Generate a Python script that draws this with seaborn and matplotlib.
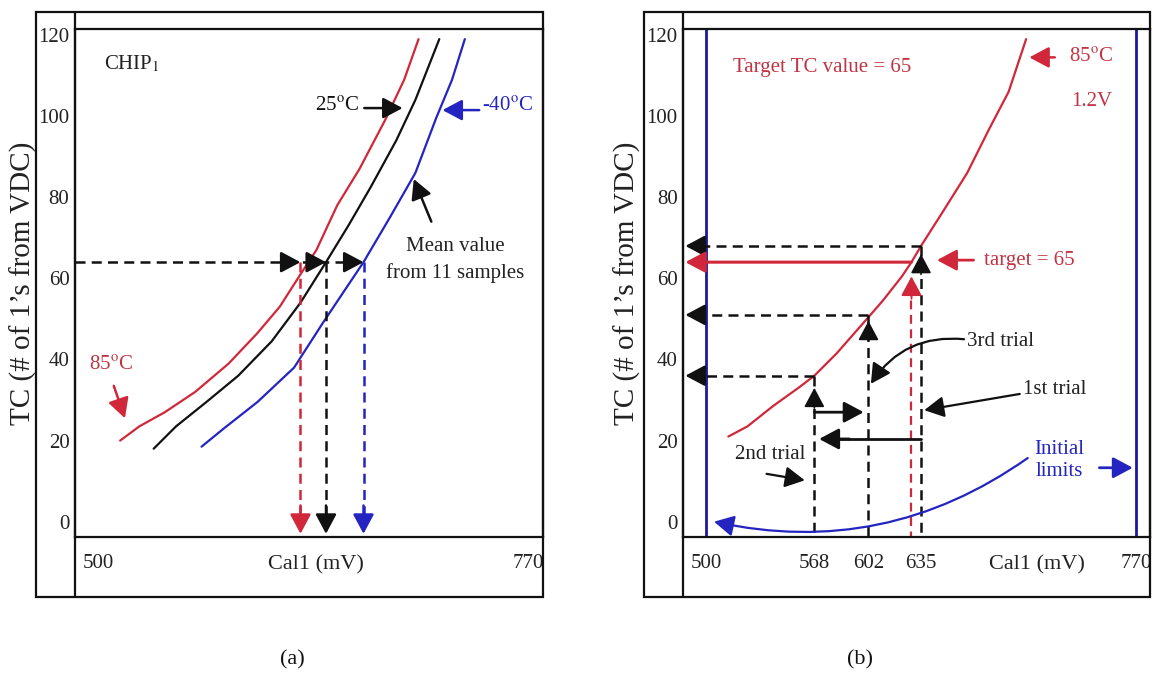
import numpy as np
import pandas as pd
import matplotlib
matplotlib.use("Agg")
import matplotlib.pyplot as plt
import seaborn as sns
from matplotlib.lines import Line2D
from matplotlib.patches import Rectangle

# ---------------- data ----------------
# panel (a): TC vs Cal1 for three temperatures
red_a_x = [514, 526, 542, 561, 582, 600, 614, 627, 637, 650, 664, 680, 692, 701]
red_a_y = [20, 23.5, 27, 32, 39, 46.5, 53, 61, 67, 78, 87, 99, 109, 119]
blk_a_x = [535, 549, 568, 588, 609, 627, 643, 657, 671, 687, 699, 714]
blk_a_y = [18, 23.5, 29.5, 36, 44.5, 54, 64, 73, 82.5, 94, 104, 119]
blu_a_x = [565, 579, 600, 623, 641, 666.5, 683, 699, 712, 722, 730]
blu_a_y = [18.5, 23, 29.5, 38, 49, 64, 75, 86, 99.5, 109, 119]
target_a = 64
cross_a = [627, 643, 666.5]

# panel (b): 85C / 1.2V curve and binary-search trials
red_b_x = [514, 526, 542, 558, 568, 582, 601, 611, 623, 629, 635, 648, 664, 678, 690, 701]
red_b_y = [21, 23.5, 28.5, 33, 36, 41.5, 50, 54.5, 60.5, 64, 68, 76, 86, 97, 106, 119]
trial_x = [568, 602, 635]
trial_y = [36, 51, 68]
target_b = 64
target_x_b = 629
limits = [500, 770]

yticks = [0, 20, 40, 60, 80, 100, 120]
xticks_a = [500, 770]
xticks_b = [500, 568, 602, 635, 770]
xlim = (485.7, 778.8)
ylim = (-3.85, 121.4)

# ---------------- style ----------------
sns.set_theme(style="white")
plt.rcParams["font.family"] = ["Liberation Serif", "DejaVu Serif"]
plt.rcParams["mathtext.fontset"] = "stix"

RED = "#d0283a"
RED_T = "#c03443"
BLUE = "#2424c0"
BLUE_L = "#1a1a9a"
BLACK = "#111111"
DASH = (0, (4, 2.5))

W, H = 1153, 679
fig = plt.figure(figsize=(W / 100, H / 100), dpi=100)


def fx(px):
    return px / W


def fy(py):
    return 1 - py / H


ax_a = fig.add_axes([fx(75), fy(537.3), (542.7 - 75) / W, (537.3 - 29.4) / H])
ax_b = fig.add_axes([fx(683.3), fy(537.3), (1150 - 683.3) / W, (537.3 - 29.4) / H])

# outer frames
for (x0, x1, xi) in [(36, 543, 75), (644, 1150, 683.3)]:
    fig.add_artist(Rectangle((fx(x0), fy(596.7)), (x1 - x0) / W, (596.7 - 11.5) / H,
                             transform=fig.transFigure, fill=False, lw=1.6, ec=BLACK))
    fig.add_artist(Line2D([fx(xi), fx(xi)], [fy(11.5), fy(596.7)],
                          transform=fig.transFigure, lw=1.6, color=BLACK))


def arrow(ax, x0, y0, x1, y1, color=BLACK, lw=1.8, ls="-", rad=0.0, hl=0.6, hw=0.32, ms=20):
    ax.annotate("", xy=(x1, y1), xytext=(x0, y0),
                arrowprops=dict(arrowstyle=f"-|>,head_length={hl},head_width={hw}",
                                color=color, lw=lw, linestyle=ls, shrinkA=0, shrinkB=0,
                                mutation_scale=ms, connectionstyle=f"arc3,rad={rad}"),
                annotation_clip=False)


def style_axes(ax, xticks, ylab_x):
    ax.set_xlim(*xlim)
    ax.set_ylim(*ylim)
    ax.set_xticks(xticks)
    ax.set_yticks(yticks)
    ax.tick_params(axis="both", length=0, labelsize=15, colors="#222222")
    ax.tick_params(axis="x", pad=12)
    ax.tick_params(axis="y", pad=4)
    for s in ax.spines.values():
        s.set_color(BLACK)
        s.set_linewidth(1.6)
    ax.set_xlabel("")
    ax.set_ylabel("TC (# of 1\u2019s from VDC)", fontsize=21, color="#222222")
    ax.yaxis.set_label_coords(ylab_x, 0.5)


# ---------------- panel (a) ----------------
df_a = pd.concat([
    pd.DataFrame({"x": red_a_x, "y": red_a_y, "T": "85C"}),
    pd.DataFrame({"x": blk_a_x, "y": blk_a_y, "T": "25C"}),
    pd.DataFrame({"x": blu_a_x, "y": blu_a_y, "T": "-40C"}),
])
sns.lineplot(data=df_a, x="x", y="y", hue="T", sort=False, estimator=None, legend=False,
             palette={"85C": RED, "25C": BLACK, "-40C": BLUE}, lw=1.6, ax=ax_a)
style_axes(ax_a, xticks_a, -0.081)
ax_a.text(636.4, -0.055, "Cal1 (mV)", transform=ax_a.get_xaxis_transform(),
          ha="center", va="center", fontsize=16, color="#222222")

ax_a.plot([xlim[0], cross_a[2] - 6], [target_a, target_a], ls=DASH, color=BLACK, lw=1.8)
for xc in cross_a:
    arrow(ax_a, xc - 8, target_a, xc, target_a)
for xc, c in zip(cross_a, [RED, BLACK, BLUE]):
    ax_a.plot([xc, xc], [target_a, 2], ls=DASH, color=c, lw=1.8)
    arrow(ax_a, xc, 4, xc, -3, color=c)

ax_a.text(521.6, 113, r"CHIP$_1$", ha="center", va="center", fontsize=15, color="#222222")
ax_a.text(650, 102.5, r"25$^{\mathrm{o}}$C", ha="center", va="center", fontsize=15, color=BLACK)
arrow(ax_a, 667, 102, 691, 102)
ax_a.text(757, 102.5, r"-40$^{\mathrm{o}}$C", ha="center", va="center", fontsize=15, color=BLUE)
arrow(ax_a, 739, 101.5, 716, 101.5, color=BLUE)
ax_a.text(724, 64.5, "Mean value\nfrom 11 samples", ha="center", va="center",
          fontsize=15, color="#222222", linespacing=1.45)
arrow(ax_a, 709, 74, 698, 84.5)
ax_a.text(508, 38.5, r"85$^{\mathrm{o}}$C", ha="center", va="center", fontsize=15, color=RED_T)
arrow(ax_a, 510, 33.5, 517, 25.5, color=RED)

# ---------------- panel (b) ----------------
df_b = pd.DataFrame({"x": red_b_x, "y": red_b_y, "T": "85C"})
sns.lineplot(data=df_b, x="x", y="y", hue="T", sort=False, estimator=None, legend=False,
             palette={"85C": RED}, lw=1.6, ax=ax_b)
style_axes(ax_b, xticks_b, -0.090)
ax_b.text(708, -0.055, "Cal1 (mV)", transform=ax_b.get_xaxis_transform(),
          ha="center", va="center", fontsize=16, color="#222222")

for xl in limits:
    ax_b.axvline(xl, color=BLUE_L, lw=2)

ax_b.text(573, 112, "Target TC value = 65", ha="center", va="center", fontsize=15, color=RED_T)
arrow(ax_b, 719, 114.5, 703, 114.5, color=RED)
ax_b.text(742, 114.5, r"85$^{\mathrm{o}}$C", ha="center", va="center", fontsize=15, color=RED_T)
ax_b.text(742, 103.5, "1.2V", ha="center", va="center", fontsize=15, color=RED_T)

# horizontal dashed read-outs of each trial + dashed verticals
for xt, yt in zip(trial_x, trial_y):
    ax_b.plot([xt, 494], [yt, yt], ls=DASH, color=BLACK, lw=1.8)
    arrow(ax_b, 496, yt, 487, yt)
    ax_b.plot([xt, xt], [yt, ylim[0]], ls=DASH, color=BLACK, lw=1.8)
# target line
arrow(ax_b, target_x_b, target_b, 487, target_b, color=RED, lw=2.2)
ax_b.plot([target_x_b, target_x_b], [target_b - 6, ylim[0]], ls=DASH, color=RED, lw=1.6)
arrow(ax_b, target_x_b, 55, target_x_b, 60.5, color=RED, lw=1.4)
# up arrowheads on trial lines
for xt, ytip in zip(trial_x, [33, 49.5, 66]):
    arrow(ax_b, xt, ytip - 5, xt, ytip, lw=1.2)

ax_b.text(703, 64.5, "target = 65", ha="center", va="center", fontsize=15, color=RED_T)
arrow(ax_b, 668, 64.5, 645, 64.5, color=RED, lw=2)

# trial annotations
arrow(ax_b, 568, 27, 599, 27, lw=2)
ax_b.plot([635, 580], [20.4, 20.4], color=BLACK, lw=2)
arrow(ax_b, 590, 20.4, 571, 20.4, lw=2)
ax_b.text(719, 32.5, "1st trial", ha="center", va="center", fontsize=15, color="#222222")
arrow(ax_b, 697, 31.5, 637, 27.5, lw=1.6)
ax_b.text(685, 44.5, "3rd trial", ha="center", va="center", fontsize=15, color="#222222")
arrow(ax_b, 662, 45, 603.5, 34, lw=1.6, rad=0.3)
ax_b.text(540, 16.5, "2nd trial", ha="center", va="center", fontsize=15, color="#222222")
arrow(ax_b, 538, 11.8, 562, 10.2, lw=1.6)

ax_b.text(722, 15, "Initial\nlimits", ha="center", va="center", fontsize=15,
          color=BLUE, linespacing=1.2)
arrow(ax_b, 747, 13.3, 768, 13.3, color=BLUE, lw=2)
arrow(ax_b, 702, 15.7, 505, 0, color=BLUE, lw=1.6, rad=-0.22)

# captions
fig.text(fx(292), fy(660), "(a)", ha="center", va="center", fontsize=16, color=BLACK)
fig.text(fx(860), fy(660), "(b)", ha="center", va="center", fontsize=16, color=BLACK)

fig.savefig("out.png", dpi=100, facecolor="white")
